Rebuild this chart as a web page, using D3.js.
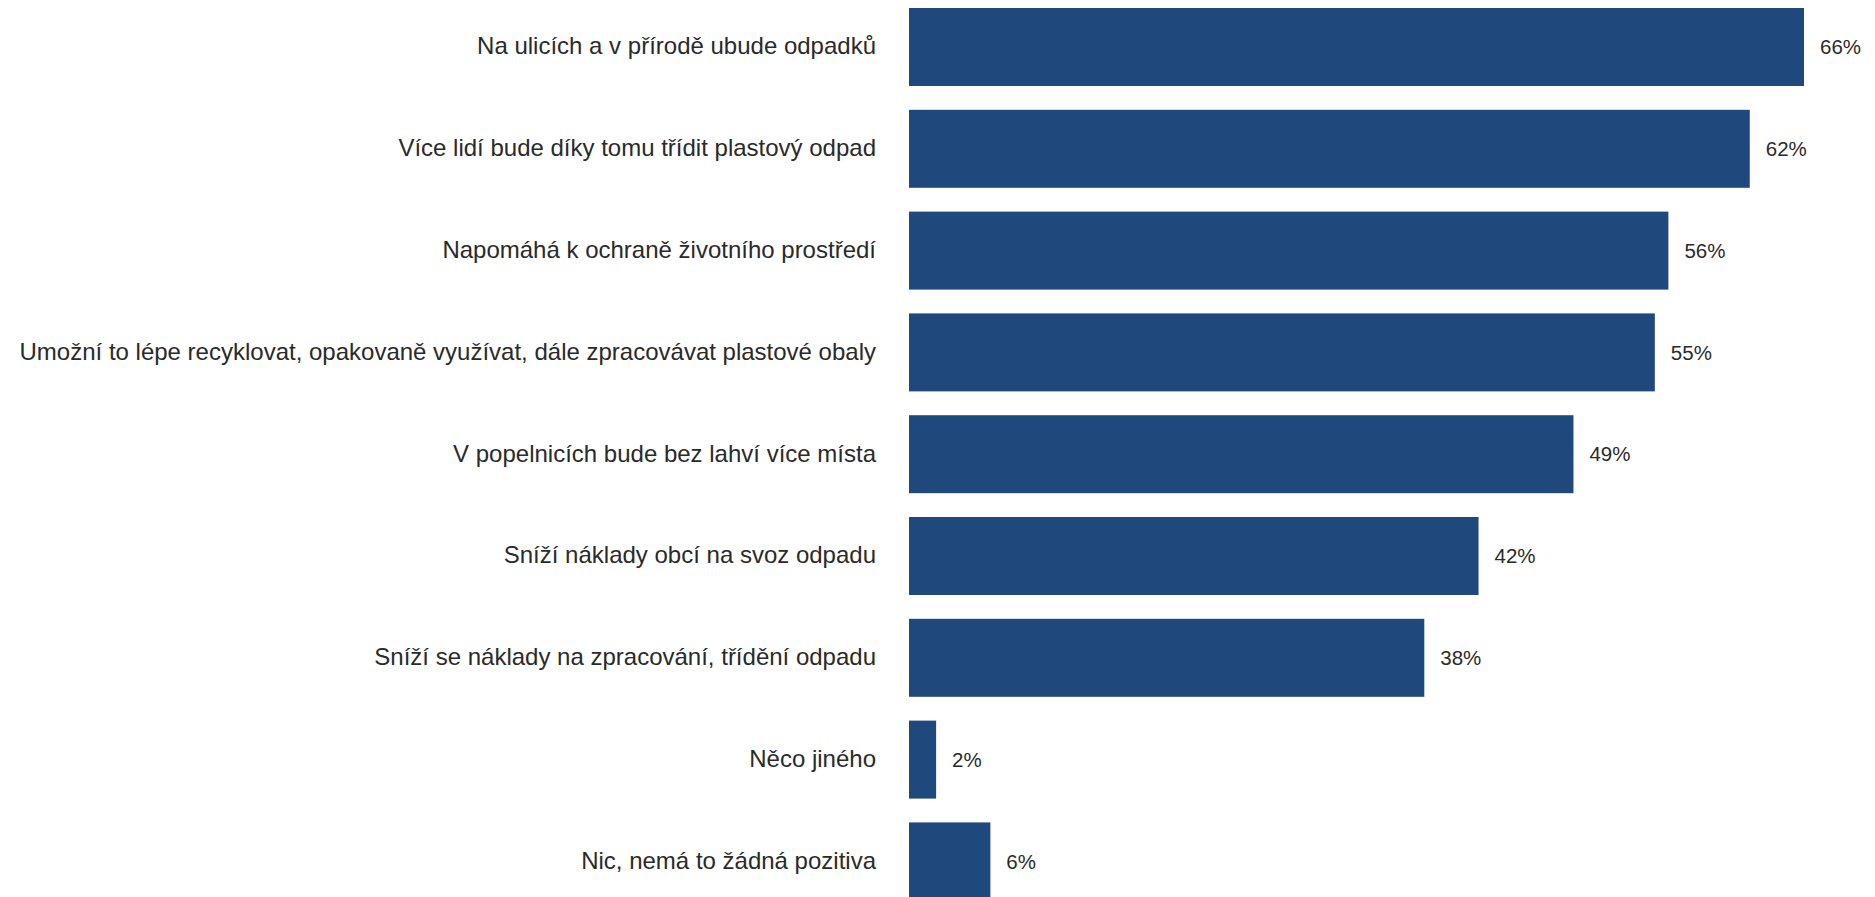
<!DOCTYPE html>
<html><head><meta charset="utf-8">
<script src="https://cdn.jsdelivr.net/npm/d3@7"></script>
<style>html,body{margin:0;padding:0;background:#fff;overflow:hidden}</style>
</head><body>
<svg id="chart" width="1875" height="897"></svg>
<script>
const categories = [
  "Na ulicích a v přírodě ubude odpadků",
  "Více lidí bude díky tomu třídit plastový odpad",
  "Napomáhá k ochraně životního prostředí",
  "Umožní to lépe recyklovat, opakovaně využívat, dále zpracovávat plastové obaly",
  "V popelnicích bude bez lahví více místa",
  "Sníží náklady obcí na svoz odpadu",
  "Sníží se náklady na zpracování, třídění odpadu",
  "Něco jiného",
  "Nic, nemá to žádná pozitiva"
];
const values = [66, 62, 56, 55, 49, 42, 38, 2, 6];

const svg = d3.select("#chart");
const x = d3.scaleLinear().domain([0, d3.max(values)]).range([909, 1804]);
const y = d3.scaleBand().domain(categories).range([-3.9, 912.3]).paddingInner(0.234).paddingOuter(0.117);
const data = categories.map((c, i) => ({c, v: values[i]}));

svg.selectAll("rect.bar").data(data).join("rect")
  .attr("class", "bar")
  .attr("x", x(0))
  .attr("y", d => y(d.c))
  .attr("width", d => x(d.v) - x(0))
  .attr("height", y.bandwidth())
  .attr("fill", "#1f497d");

svg.selectAll("text.cat").data(data).join("text")
  .attr("class", "cat")
  .attr("x", 876)
  .attr("y", d => y(d.c) + y.bandwidth() / 2 - 1)
  .attr("dy", "0.35em")
  .attr("text-anchor", "end")
  .attr("font-family", "Liberation Sans, Arial, sans-serif")
  .attr("font-size", 24)
  .attr("fill", "#2a2a2a")
  .text(d => d.c);

svg.selectAll("text.val").data(data).join("text")
  .attr("class", "val")
  .attr("x", d => x(d.v) + 16)
  .attr("y", d => y(d.c) + y.bandwidth() / 2)
  .attr("dy", "0.35em")
  .attr("font-family", "Liberation Sans, Arial, sans-serif")
  .attr("font-size", 20.5)
  .attr("fill", "#2a2a2a")
  .text(d => d.v + "%");
</script>
</body></html>
